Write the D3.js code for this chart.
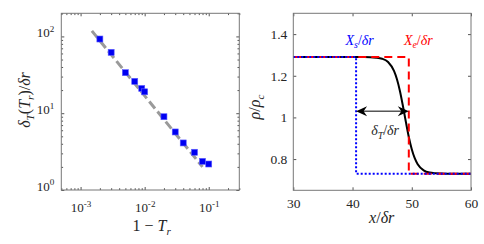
<!DOCTYPE html>
<html>
<head>
<meta charset="utf-8">
<script src="https://cdn.jsdelivr.net/npm/d3@7"></script>
<style>
  body { margin: 0; background: #fff; }
  svg text { font-family: 'Liberation Serif', 'DejaVu Serif', serif; fill: #262626; }
</style>
</head>
<body>
<svg id="chart" width="484" height="244"></svg>
<script>
// --- data: left panel (log-log) ---
const oneMinusTr = [0.002, 0.003, 0.005, 0.007, 0.009, 0.01, 0.02, 0.03, 0.04, 0.06, 0.08, 0.1];
const deltaT = [92.5, 62, 33.7, 26, 21, 19, 9, 5.7, 4.1, 3.1, 2.36, 2.18];
const fitX = [0.0015, 0.08];
const fitY = [118, 2.0];
const logXTicks = [1e-3, 1e-2, 1e-1];
const logYTicks = [1, 10, 100];

// --- data: right panel (density profile) ---
const profX = [30, 40, 42, 44, 45, 46, 47, 47.5, 48, 48.5, 49, 49.5, 50, 50.5, 51, 52, 53, 54, 56, 60];
const profY = [1.29, 1.29, 1.29, 1.287, 1.282, 1.266, 1.223, 1.183, 1.127, 1.056, 0.979, 0.906, 0.847, 0.804, 0.775, 0.746, 0.735, 0.732, 0.730, 0.73];
const xsStepX = [30, 40.6, 40.6, 60];
const xeStepX = [30, 49.5, 49.5, 60];
const stepY = [1.29, 1.29, 0.73, 0.73];
const linXTicks = [30, 40, 50, 60];
const linYTicks = [0.8, 1, 1.2, 1.4];

const FONT = "'Liberation Serif', 'DejaVu Serif', serif";
const svg = d3.select("#chart");

// append text made of pieces (italic / sub / sup)
function rich(sel, parts, size) {
  let shift = 0;
  sel.style("font-family", FONT);
  parts.forEach(p => {
    let target = p.sub ? size * 0.25 : p.sup ? -size * 0.4 : 0;
    sel.append("tspan")
      .attr("dy", target - shift)
      .attr("font-size", (p.sub || p.sup) ? size * 0.7 : size)
      .attr("font-style", p.i ? "italic" : "normal")
      .text(p.t);
    shift = target;
  });
  return sel;
}

function frame(g, w, h) {
  g.append("rect").attr("width", w).attr("height", h)
    .attr("fill", "none").attr("stroke", "#777").attr("stroke-width", 1);
}

function styleAxis(a) {
  a.attr("font-family", null);
  a.select(".domain").remove();
  a.selectAll(".tick line").attr("stroke", "#555");
  a.selectAll(".tick text").attr("fill", "#262626").style("font-family", FONT);
}

// ================= Left panel =================
const L = { x: 61.3, y: 13.3, w: 178, h: 176.7 };
const gl = svg.append("g").attr("transform", `translate(${L.x},${L.y})`);

const xl = d3.scaleLog().domain([5e-4, 0.3]).range([0, L.w]);
const yl = d3.scaleLog().domain([1, 200]).range([L.h, 0]);

const minorX = xl.ticks().filter(v => !logXTicks.includes(v));
const minorY = yl.ticks().filter(v => !logYTicks.includes(v));

// minor ticks on all four sides
[[d3.axisBottom(xl), `translate(0,${L.h})`, minorX],
 [d3.axisTop(xl), null, minorX],
 [d3.axisLeft(yl), null, minorY],
 [d3.axisRight(yl), `translate(${L.w},0)`, minorY]].forEach(([ax, tr, vals]) => {
  const a = gl.append("g").attr("transform", tr)
    .call(ax.tickValues(vals).tickSize(-1.8).tickFormat(""));
  styleAxis(a);
});

const supLabel = function(d) {
  const t = d3.select(this).text(null);
  rich(t, [{ t: "10" }, { t: String(Math.round(Math.log10(d))), sup: true }], 13);
};

const axBl = gl.append("g").attr("transform", `translate(0,${L.h})`)
  .call(d3.axisBottom(xl).tickValues(logXTicks).tickSize(-3).tickPadding(22).tickFormat(""));
styleAxis(axBl);
axBl.selectAll(".tick text").attr("font-size", 13).attr("dy", 0).each(function(d) {
  d3.select(this).text("x"); supLabel.call(this, d);
});

const axLl = gl.append("g")
  .call(d3.axisLeft(yl).tickValues(logYTicks).tickSize(-3).tickPadding(7).tickFormat(""));
styleAxis(axLl);
axLl.selectAll(".tick text").attr("font-size", 13).attr("dy", "0.52em").each(function(d) {
  d3.select(this).text("x"); supLabel.call(this, d);
});

gl.append("g").call(d3.axisTop(xl).tickValues(logXTicks).tickSize(-3).tickFormat("")).call(styleAxis);
gl.append("g").attr("transform", `translate(${L.w},0)`)
  .call(d3.axisRight(yl).tickValues(logYTicks).tickSize(-3).tickFormat("")).call(styleAxis);

// fit line
gl.append("path")
  .datum(d3.zip(fitX, fitY))
  .attr("d", d3.line().x(d => xl(d[0])).y(d => yl(d[1])))
  .attr("fill", "none").attr("stroke", "#9a9a9a").attr("stroke-width", 3)
  .attr("stroke-dasharray", "9,4");

// markers
gl.append("g").selectAll("rect")
  .data(d3.zip(oneMinusTr, deltaT))
  .join("rect")
  .attr("x", d => xl(d[0]) - 3).attr("y", d => yl(d[1]) - 3)
  .attr("width", 6).attr("height", 6)
  .attr("fill", "#0000f2").attr("stroke", "#5c5cff").attr("stroke-width", 0.6);

frame(gl, L.w, L.h);

// axis titles
rich(svg.append("text").attr("text-anchor", "middle")
  .attr("x", 151.7).attr("y", 230.5),
  [{ t: "1 \u2212 " }, { t: "T", i: true }, { t: "r", i: true, sub: true }], 16);

rich(svg.append("text").attr("text-anchor", "middle")
  .attr("transform", "translate(30,100) rotate(-90)"),
  [{ t: "\u03b4", i: true }, { t: "T", i: true, sub: true }, { t: "(" },
   { t: "T", i: true }, { t: "r", i: true, sub: true }, { t: ")/" },
   { t: "\u03b4r", i: true }], 16);

// ================= Right panel =================
const R = { x: 293.3, y: 13.3, w: 177.7, h: 177 };
const gr = svg.append("g").attr("transform", `translate(${R.x},${R.y})`);

const xr = d3.scaleLinear().domain([30, 60]).range([0, R.w]);
const yr = d3.scaleLinear().domain([0.65, 1.5]).range([R.h, 0]);

const axBr = gr.append("g").attr("transform", `translate(0,${R.h})`)
  .call(d3.axisBottom(xr).tickValues(linXTicks).tickSize(-3).tickPadding(8));
styleAxis(axBr);
axBr.selectAll(".tick text").attr("font-size", 13.5);

const axLr = gr.append("g")
  .call(d3.axisLeft(yr).tickValues(linYTicks).tickSize(-3).tickPadding(6).tickFormat(d3.format("")));
styleAxis(axLr);
axLr.selectAll(".tick text").attr("font-size", 13.5);

gr.append("g").call(d3.axisTop(xr).tickValues(linXTicks).tickSize(-3).tickFormat("")).call(styleAxis);
gr.append("g").attr("transform", `translate(${R.w},0)`)
  .call(d3.axisRight(yr).tickValues(linYTicks).tickSize(-3).tickFormat("")).call(styleAxis);

const lineR = d3.line().x(d => xr(d[0])).y(d => yr(d[1]));

gr.append("path")
  .datum(d3.zip(profX, profY))
  .attr("d", lineR.curve(d3.curveMonotoneX))
  .attr("fill", "none").attr("stroke", "#000").attr("stroke-width", 2);

lineR.curve(d3.curveLinear);
gr.append("path")
  .datum(d3.zip(xeStepX, stepY))
  .attr("d", lineR)
  .attr("fill", "none").attr("stroke", "#ff0000").attr("stroke-width", 2)
  .attr("stroke-dasharray", "8,5");

gr.append("path")
  .datum(d3.zip(xsStepX, stepY))
  .attr("d", lineR)
  .attr("fill", "none").attr("stroke", "#0000ff").attr("stroke-width", 2)
  .attr("stroke-dasharray", "2,2");

// double arrow between Xs and Xe
const ay = yr(1.03), ax0 = xr(xsStepX[1]), ax1 = xr(xeStepX[1]);
gr.append("line").attr("x1", ax0 + 6).attr("x2", ax1 - 6).attr("y1", ay).attr("y2", ay)
  .attr("stroke", "#000").attr("stroke-width", 1);
function head(tipX, dir) {
  const len = 11, hw = 5, back = 3.5;
  gr.append("path")
    .attr("d", `M${tipX},${ay} L${tipX + dir * len},${ay - hw} L${tipX + dir * (len - back)},${ay} L${tipX + dir * len},${ay + hw} Z`)
    .attr("fill", "#000");
}
head(ax0, 1);
head(ax1, -1);

frame(gr, R.w, R.h);

// annotations
rich(gr.append("text").attr("text-anchor", "middle")
  .attr("x", xr(41.2)).attr("y", yr(1.348)).style("fill", "#0000ff"),
  [{ t: "X", i: true }, { t: "s", i: true, sub: true }, { t: "/" }, { t: "\u03b4r", i: true }], 14);

rich(gr.append("text").attr("text-anchor", "middle")
  .attr("x", xr(51.1)).attr("y", yr(1.348)).style("fill", "#ff0000"),
  [{ t: "X", i: true }, { t: "e", i: true, sub: true }, { t: "/" }, { t: "\u03b4r", i: true }], 14);

rich(gr.append("text").attr("text-anchor", "middle")
  .attr("x", xr(45.5)).attr("y", yr(0.915)),
  [{ t: "\u03b4", i: true }, { t: "T", i: true, sub: true }, { t: "/" }, { t: "\u03b4r", i: true }], 14);

rich(svg.append("text").attr("text-anchor", "middle")
  .attr("x", 381.7).attr("y", 223),
  [{ t: "x", i: true }, { t: "/" }, { t: "\u03b4r", i: true }], 16);

rich(svg.append("text").attr("text-anchor", "middle")
  .attr("transform", "translate(260,107) rotate(-90)"),
  [{ t: "\u03c1", i: true }, { t: "/" }, { t: "\u03c1", i: true }, { t: "c", i: true, sub: true }], 16);
</script>
</body>
</html>
